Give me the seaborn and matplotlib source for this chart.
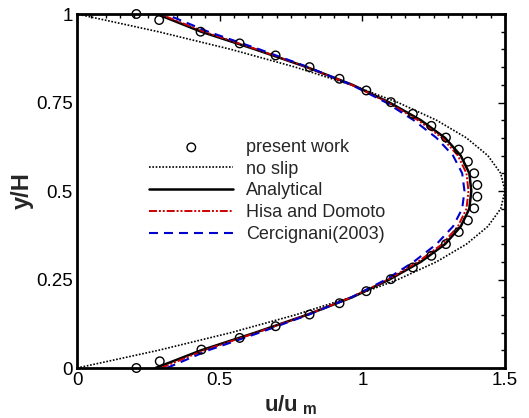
import numpy as np
import pandas as pd
import matplotlib
matplotlib.use('Agg')
import matplotlib.pyplot as plt
import seaborn as sns

# y positions of the curves
y_curve = [0.0, 0.05, 0.10, 0.15, 0.20, 0.25, 0.30, 0.35, 0.40, 0.45, 0.50,
           0.55, 0.60, 0.65, 0.70, 0.75, 0.80, 0.85, 0.90, 0.95, 1.0]

# no slip profile
u_noslip = [0.0, 0.285, 0.54, 0.765, 0.96, 1.125, 1.26, 1.365, 1.44, 1.485, 1.5,
            1.485, 1.44, 1.365, 1.26, 1.125, 0.96, 0.765, 0.54, 0.285, 0.0]
# analytical
u_analytical = [0.275, 0.435, 0.625, 0.805, 0.965, 1.095, 1.205, 1.29, 1.345, 1.375, 1.382,
                1.375, 1.345, 1.29, 1.205, 1.095, 0.965, 0.805, 0.625, 0.435, 0.28]
# Hisa and Domoto
u_hisa = [0.295, 0.445, 0.63, 0.805, 0.962, 1.09, 1.195, 1.28, 1.335, 1.365, 1.372,
          1.365, 1.335, 1.28, 1.195, 1.09, 0.962, 0.805, 0.63, 0.445, 0.29]
# Cercignani (2003)
u_cerc = [0.315, 0.46, 0.64, 0.81, 0.962, 1.083, 1.18, 1.26, 1.318, 1.35, 1.358,
          1.35, 1.318, 1.26, 1.18, 1.083, 0.962, 0.81, 0.64, 0.46, 0.31]

# present work (circles)
y_present = [1.0, 0.983, 0.950, 0.917, 0.883, 0.850, 0.817, 0.784, 0.751, 0.718, 0.684,
             0.651, 0.617, 0.583, 0.550, 0.517, 0.484, 0.451, 0.417, 0.384, 0.350, 0.317,
             0.284, 0.251, 0.217, 0.183, 0.151, 0.118, 0.085, 0.052, 0.019, 0.0]
u_present = [0.208, 0.288, 0.433, 0.570, 0.696, 0.815, 0.920, 1.014, 1.100, 1.177, 1.242,
             1.293, 1.338, 1.370, 1.392, 1.403, 1.403, 1.392, 1.370, 1.338, 1.293, 1.242,
             1.177, 1.100, 1.014, 0.920, 0.815, 0.696, 0.570, 0.436, 0.290, 0.208]

sns.set_theme(style='white')
plt.rcParams['font.family'] = ['Liberation Sans', 'DejaVu Sans']
plt.rcParams['mathtext.fontset'] = 'custom'
plt.rcParams['mathtext.rm'] = 'Liberation Sans'
plt.rcParams['mathtext.bf'] = 'Liberation Sans:bold'

fig = plt.figure(figsize=(5.29, 4.18), dpi=100)
ax = fig.add_axes([0.1456, 0.1196, 0.8090, 0.8469])

sns.lineplot(x=u_noslip, y=y_curve, orient='y', sort=False, estimator=None, ax=ax,
             color='black', linewidth=1.2, linestyle=(0, (1, 1)), label='no slip')
sns.lineplot(x=u_analytical, y=y_curve, orient='y', sort=False, estimator=None, ax=ax,
             color='black', linewidth=1.8, label='Analytical')
sns.lineplot(x=u_hisa, y=y_curve, orient='y', sort=False, estimator=None, ax=ax,
             color='#cc0000', linewidth=1.4, linestyle=(0, (4.1, 1, 1, 1, 1, 1)),
             label='Hisa and Domoto')
sns.lineplot(x=u_cerc, y=y_curve, orient='y', sort=False, estimator=None, ax=ax,
             color='#0000cc', linewidth=1.5, linestyle=(0, (4.3, 2.9)), label='Cercignani(2003)')
sns.scatterplot(x=u_present, y=y_present, ax=ax, marker='o', s=38,
                facecolors='none', edgecolor='black', linewidth=1.0, label='present work',
                zorder=5, clip_on=False)

ax.set_xlim(0, 1.5)
ax.set_ylim(0, 1)
ax.set_xticks([0, 0.5, 1, 1.5])
ax.set_xticklabels(['0', '0.5', '1', '1.5'])
ax.set_yticks([0, 0.25, 0.5, 0.75, 1])
ax.set_yticklabels(['0', '0.25', '0.5', '0.75', '1'])
ax.set_xticks(np.arange(0, 1.5001, 0.05), minor=True)
ax.set_yticks(np.arange(0, 1.0001, 0.05), minor=True)
ax.tick_params(which='both', direction='in', top=True, right=True, colors='black',
               labelsize=13.5, width=1)
ax.tick_params(which='major', length=5, pad=3)
ax.tick_params(which='minor', length=3)
for s in ax.spines.values():
    s.set_linewidth(2)
    s.set_color('black')

ax.set_xlabel(r'u/u$_{\mathbf{\ m}}$', fontsize=16, fontweight='bold', labelpad=3)
ax.set_ylabel('y/H', fontsize=17, fontweight='bold', labelpad=2)

handles, labels = ax.get_legend_handles_labels()
order = [labels.index(l) for l in ['present work', 'no slip', 'Analytical',
                                    'Hisa and Domoto', 'Cercignani(2003)']]
ax.legend([handles[i] for i in order], [labels[i] for i in order],
          loc='upper left', bbox_to_anchor=(0.152, 0.667), frameon=False,
          fontsize=13, handlelength=4.65, handletextpad=0.72, labelspacing=0.26,
          borderaxespad=0)

fig.savefig('out.png', dpi=100)
